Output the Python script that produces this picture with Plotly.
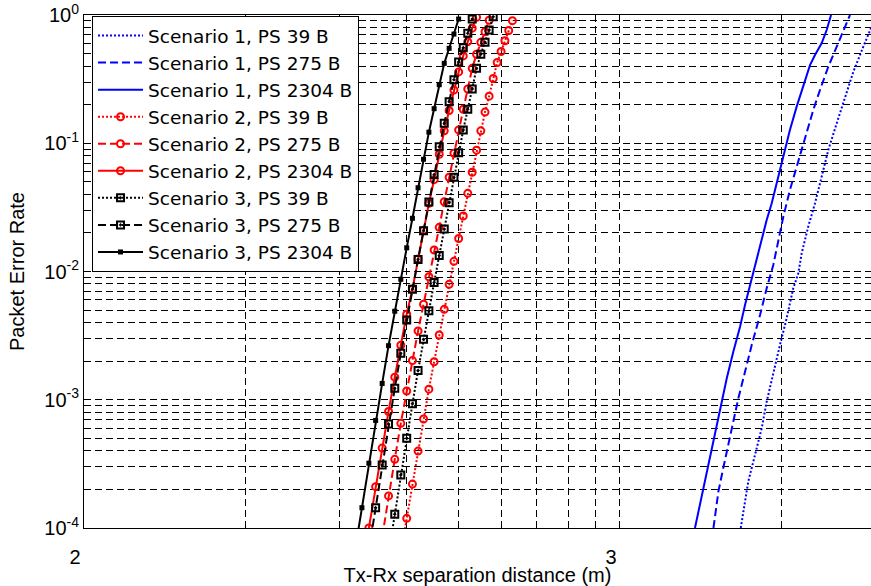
import plotly.graph_objects as go

# ---------------- data ----------------
# Scenario 1 (blue, no markers)
s1_39_x = [1680, 1735, 1786, 1838, 1878, 1932, 1988, 2046, 2105, 2151, 2183, 2245, 2311, 2378, 2447, 2537, 2629, 2725, 2844, 2939, 3040]
s1_39_y = [1.0e-4, 2.3e-4, 3.71e-4, 5.99e-4, 9.66e-4, 1.65e-3, 2.67e-3, 4.32e-3, 7.4e-3, 9.68e-3, 0.0139, 0.0224, 0.034, 0.0548, 0.0886, 0.143, 0.231, 0.361, 0.566, 0.788, 1.0]

s1_275_x = [1494, 1526, 1558, 1593, 1627, 1663, 1711, 1761, 1825, 1878, 1932, 1974, 2017, 2075, 2136, 2214, 2294, 2361, 2447, 2537, 2610, 2686]
s1_275_y = [1.0e-4, 1.92e-4, 2.92e-4, 4.44e-4, 6.74e-4, 1.03e-3, 1.65e-3, 2.67e-3, 4.58e-3, 7.4e-3, 0.01124, 0.0176, 0.0267, 0.0432, 0.0656, 0.1125, 0.1816, 0.260, 0.395, 0.566, 0.764, 1.0]

s1_2304_x = [1380, 1430, 1461, 1494, 1526, 1548, 1582, 1627, 1675, 1711, 1748, 1786, 1846, 1878, 1919, 1960, 2003, 2040, 2075, 2136, 2214, 2262, 2311, 2378, 2430, 2476]
s1_2304_y = [1.0e-4, 2.04e-4, 3.1e-4, 4.71e-4, 7.17e-4, 9.95e-4, 1.47e-3, 2.37e-3, 3.71e-3, 5.48e-3, 7.85e-3, 0.01124, 0.01868, 0.0252, 0.034, 0.0487, 0.0698, 0.1, 0.127, 0.193, 0.302, 0.407, 0.488, 0.601, 0.764, 1.0]

# Scenario 2 (red, circles)
s2_39_x = [390, 400, 410, 420, 430, 440, 450, 460, 470, 480, 490, 500, 510, 520, 530, 540, 550, 560, 570, 580, 590, 600, 610, 620, 630]
s2_39_y = [6.4e-5, 1.19e-4, 2.2e-4, 3.98e-4, 7.08e-4, 1.21e-3, 1.98e-3, 3.2e-3, 5.07e-3, 7.94e-3, 0.012, 0.0181, 0.0271, 0.0407, 0.0594, 0.0883, 0.125, 0.175, 0.233, 0.32, 0.426, 0.519, 0.63, 0.757, 0.903]

s2_275_x = [360, 370, 380, 390, 400, 410, 420, 430, 440, 450, 460, 470, 480, 490, 500, 510, 520, 530, 540, 550, 560, 570]
s2_275_y = [8.5e-5, 1.78e-4, 3.43e-4, 6.55e-4, 1.17e-3, 2.02e-3, 3.44e-3, 5.55e-3, 9.1e-3, 0.0147, 0.0221, 0.035, 0.0543, 0.0836, 0.127, 0.184, 0.265, 0.384, 0.494, 0.612, 0.74, 0.91]

s2_2304_x = [340, 350, 360, 370, 380, 390, 400, 410, 420, 430, 440, 450, 460, 470, 480, 490, 500, 510, 520, 530, 540]
s2_2304_y = [1.0e-4, 2.1e-4, 4.2e-4, 8.1e-4, 1.5e-3, 2.66e-3, 4.64e-3, 7.3e-3, 0.0125, 0.021, 0.034, 0.052, 0.082, 0.125, 0.18, 0.26, 0.36, 0.48, 0.62, 0.79, 0.96]

# Scenario 3 (black, squares)
s3_39_x = [370, 380, 390, 400, 410, 420, 430, 440, 450, 460, 470, 480, 490, 500, 510, 520, 530, 540, 550, 560, 570, 580]
s3_39_y = [6.3e-5, 1.28e-4, 2.59e-4, 5.0e-4, 9.3e-4, 1.69e-3, 2.96e-3, 4.94e-3, 8.2e-3, 0.0133, 0.0214, 0.0344, 0.0542, 0.0843, 0.127, 0.184, 0.265, 0.384, 0.494, 0.612, 0.764, 0.97]

s3_275_x = [340, 350, 360, 370, 380, 390, 400, 410, 420, 430, 440, 450, 460, 470, 480, 490, 500, 510, 520, 530]
s3_275_y = [6.7e-5, 1.44e-4, 3.1e-4, 6.47e-4, 1.23e-3, 2.3e-3, 4.19e-3, 7.26e-3, 0.0124, 0.0208, 0.0348, 0.057, 0.094, 0.143, 0.211, 0.313, 0.43, 0.556, 0.72, 0.93]

s3_2304_x = [320, 330, 340, 350, 360, 370, 380, 390, 400, 410, 420, 430, 440, 450, 460, 470, 480, 490, 500]
s3_2304_y = [6.5e-5, 1.44e-4, 3.2e-4, 6.9e-4, 1.34e-3, 2.64e-3, 4.9e-3, 8.7e-3, 0.0153, 0.026, 0.045, 0.075, 0.122, 0.186, 0.286, 0.42, 0.55, 0.71, 0.93]

x_tick_vals = [100, 1000]
x_tick_text = ["2", "3"]
x_minor_vals = [200, 300, 400, 500, 600, 700, 800, 900, 2000]
y_tick_vals = [1e-4, 1e-3, 1e-2, 1e-1, 1]
y_tick_text = ["10<sup>-4</sup>", "10<sup>-3</sup>", "10<sup>-2</sup>", "10<sup>-1</sup>", "10<sup>0</sup>"]
y_minor_vals = [m * 10.0 ** e for e in (-4, -3, -2, -1) for m in range(2, 10)]

# ---------------- styling ----------------
FONT = "Liberation Sans, Arial, Helvetica, sans-serif"
LEG_FONT = "DejaVu Sans, Liberation Sans, Arial, sans-serif"
DOT = "2px,2px"
DASH = "8px,4px"
GRID_DASH = "7px,4px"

series = [
    ("Scenario 1, PS 39 B", s1_39_x, s1_39_y, "blue", DOT, None),
    ("Scenario 1, PS 275 B", s1_275_x, s1_275_y, "blue", DASH, None),
    ("Scenario 1, PS 2304 B", s1_2304_x, s1_2304_y, "blue", "solid", None),
    ("Scenario 2, PS 39 B", s2_39_x, s2_39_y, "red", DOT, dict(symbol="circle-open", size=7, line=dict(width=2, color="red"))),
    ("Scenario 2, PS 275 B", s2_275_x, s2_275_y, "red", DASH, dict(symbol="circle-open", size=7, line=dict(width=2, color="red"))),
    ("Scenario 2, PS 2304 B", s2_2304_x, s2_2304_y, "red", "solid", dict(symbol="circle-open", size=7, line=dict(width=2, color="red"))),
    ("Scenario 3, PS 39 B", s3_39_x, s3_39_y, "black", DOT, dict(symbol="square-open-dot", size=7, line=dict(width=2, color="black"))),
    ("Scenario 3, PS 275 B", s3_275_x, s3_275_y, "black", DASH, dict(symbol="square-open-dot", size=7, line=dict(width=2, color="black"))),
    ("Scenario 3, PS 2304 B", s3_2304_x, s3_2304_y, "black", "solid", dict(symbol="square", size=5, color="black")),
]

fig = go.Figure()
for name, xs, ys, col, dash, marker in series:
    kw = dict(x=xs, y=ys, name=name,
              line=dict(color=col, width=2, dash=dash))
    if marker is None:
        kw["mode"] = "lines"
    else:
        kw["mode"] = "lines+markers"
        kw["marker"] = marker
    fig.add_trace(go.Scatter(**kw))

fig.update_layout(
    width=871, height=586,
    margin=dict(l=84, r=0, t=15, b=58, pad=0),
    paper_bgcolor="white", plot_bgcolor="white",
    font=dict(family=FONT, size=20, color="black"),
    showlegend=True,
    legend=dict(x=0.0102, y=0.998, xanchor="left", yanchor="top",
                bgcolor="white", bordercolor="black", borderwidth=1,
                font=dict(family=LEG_FONT, size=18.5, color="black"),
                itemwidth=45, tracegroupgap=0),
)

fig.update_xaxes(
    type="log", range=[2, 3.4683],
    tickmode="array", tickvals=x_tick_vals, ticktext=x_tick_text,
    showgrid=True, gridcolor="black", gridwidth=1, griddash=GRID_DASH,
    showline=True, linecolor="black", linewidth=1, mirror=True,
    ticks="inside", ticklen=6, tickcolor="black",
    zeroline=False,
    ticklabelshift=-9, ticklabelstandoff=11,
    tickfont=dict(family=FONT, size=20, color="black"),
    minor=dict(tickmode="array", tickvals=x_minor_vals, ticks="inside", ticklen=3,
               tickcolor="black", showgrid=True, gridcolor="black", gridwidth=1,
               griddash=GRID_DASH),
    title=dict(text="Tx-Rx separation distance (m)", font=dict(family=FONT, size=20, color="black"), standoff=0),
)

fig.update_yaxes(
    type="log", range=[-4, 0],
    tickmode="array", tickvals=y_tick_vals, ticktext=y_tick_text,
    showgrid=True, gridcolor="black", gridwidth=1, griddash=GRID_DASH,
    showline=True, linecolor="black", linewidth=1, mirror=False,
    ticks="inside", ticklen=6, tickcolor="black",
    zeroline=False,
    tickfont=dict(family=FONT, size=20, color="black"),
    minor=dict(tickmode="array", tickvals=y_minor_vals, ticks="inside", ticklen=3,
               tickcolor="black", showgrid=True, gridcolor="black", gridwidth=1,
               griddash=GRID_DASH),
    title=dict(text="Packet Error Rate", font=dict(family=FONT, size=20, color="black"), standoff=14),
)

fig.write_html("out.html")
